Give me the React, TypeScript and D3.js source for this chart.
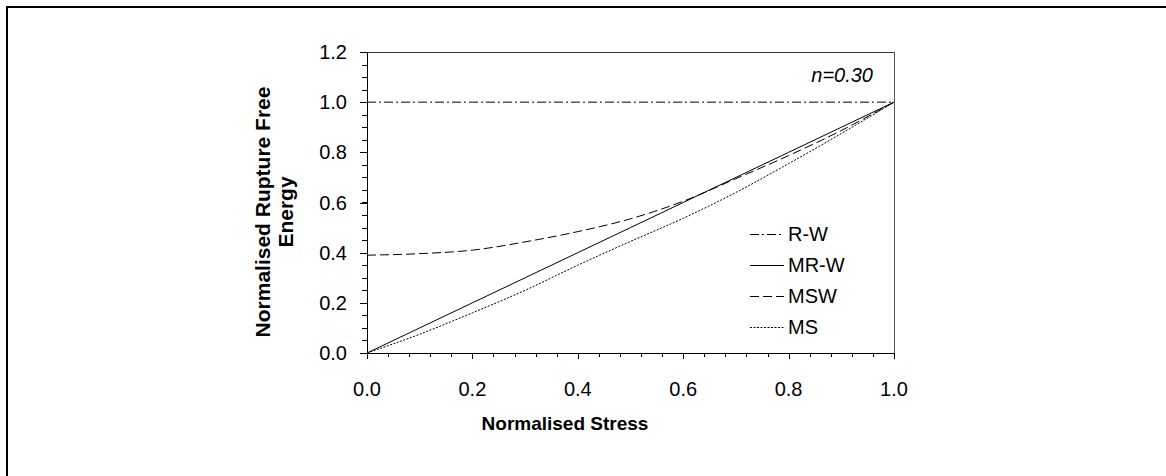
import { useMemo } from 'react';
import * as d3 from 'd3';

const stress = [0, 0.1, 0.2, 0.3, 0.4, 0.5, 0.6, 0.7, 0.8, 0.9, 1.0];
const rwEnergy = [1, 1, 1, 1, 1, 1, 1, 1, 1, 1, 1];
const mrwEnergy = [0, 0.1, 0.2, 0.3, 0.4, 0.5, 0.6, 0.7, 0.8, 0.9, 1.0];
const mswEnergy = [0.39, 0.396, 0.41, 0.443, 0.484, 0.535, 0.605, 0.695, 0.787, 0.887, 1.0];
const msEnergy = [0, 0.075, 0.16, 0.25, 0.35, 0.445, 0.537, 0.64, 0.755, 0.875, 1.0];

const seriesNames = ['R-W', 'MR-W', 'MSW', 'MS'];
const xTicks = [0, 0.2, 0.4, 0.6, 0.8, 1.0];
const yTicks = [0, 0.2, 0.4, 0.6, 0.8, 1.0, 1.2];

const FONT = '"Liberation Sans", Arial, sans-serif';

export default function App() {
  const width = 1166;
  const height = 476;
  const plot = { left: 367, right: 894, top: 52, bottom: 353 };

  const x = d3.scaleLinear().domain([0, 1]).range([plot.left, plot.right]);
  const y = d3.scaleLinear().domain([0, 1.2]).range([plot.bottom, plot.top]);

  const series = useMemo(() => {
    const all = [rwEnergy, mrwEnergy, mswEnergy, msEnergy];
    const dashes = ['9,3,2,3', null, '9,4', '2,1.5'];
    return all.map((vals, i) => ({
      name: seriesNames[i],
      dash: dashes[i],
      points: stress.map((s, j) => [s, vals[j]] as [number, number]),
    }));
  }, []);

  const line = d3
    .line<[number, number]>()
    .x((d) => x(d[0]))
    .y((d) => y(d[1]))
    .curve(d3.curveMonotoneX);

  const xMinor = d3.range(0, 1.0001, 0.04);
  const yMinor = d3.range(0, 1.2001, 0.05);

  const legendX = 750;
  const legendY0 = 234;
  const legendStep = 31;

  return (
    <svg
      width={width}
      height={height}
      style={{ position: 'absolute', left: 0, top: 0, background: '#fff' }}
      fontFamily={FONT}
    >
      {/* outer frame (only top & left visible) */}
      <rect x={7} y={7} width={width + 20} height={height + 20} fill="none" stroke="#000" strokeWidth={2} />

      {/* plot box */}
      <line x1={plot.left} x2={plot.right} y1={plot.top + 0.5} y2={plot.top + 0.5} stroke="#333" />
      <line x1={plot.right + 0.5} x2={plot.right + 0.5} y1={plot.top} y2={plot.bottom} stroke="#555" />

      {/* series */}
      {series.map((s) => (
        <path
          key={s.name}
          d={line(s.points) ?? ''}
          fill="none"
          stroke="#000"
          strokeWidth={1}
          strokeDasharray={s.dash ?? undefined}
        />
      ))}

      {/* y axis */}
      <line x1={plot.left + 0.5} x2={plot.left + 0.5} y1={plot.top} y2={plot.bottom} stroke="#000" />
      {yMinor.map((t) => (
        <line key={`ym${t}`} x1={plot.left - 5} x2={plot.left} y1={Math.round(y(t)) + 0.5} y2={Math.round(y(t)) + 0.5} stroke="#000" />
      ))}
      {yTicks.map((t) => (
        <g key={`y${t}`}>
          <line x1={plot.left - 7} x2={plot.left} y1={Math.round(y(t)) + 0.5} y2={Math.round(y(t)) + 0.5} stroke="#000" />
          <text x={plot.left - 20} y={y(t)} textAnchor="end" dominantBaseline="central" fontSize={20}>
            {d3.format('.1f')(t)}
          </text>
        </g>
      ))}

      {/* x axis */}
      <line x1={plot.left} x2={plot.right + 1} y1={plot.bottom + 0.5} y2={plot.bottom + 0.5} stroke="#000" />
      {xMinor.map((t) => (
        <line key={`xm${t}`} x1={Math.round(x(t)) + 0.5} x2={Math.round(x(t)) + 0.5} y1={plot.bottom} y2={plot.bottom + 4} stroke="#000" />
      ))}
      {xTicks.map((t) => (
        <g key={`x${t}`}>
          <line x1={Math.round(x(t)) + 0.5} x2={Math.round(x(t)) + 0.5} y1={plot.bottom} y2={plot.bottom + 6} stroke="#000" />
          <text x={x(t)} y={396} textAnchor="middle" fontSize={20}>
            {d3.format('.1f')(t)}
          </text>
        </g>
      ))}

      {/* axis titles */}
      <text x={565} y={430} textAnchor="middle" fontSize={19} fontWeight="bold">
        Normalised Stress
      </text>
      <text transform="translate(270,212) rotate(-90)" textAnchor="middle" fontSize={21} fontWeight="bold">
        <tspan x={0} dy={0}>Normalised Rupture Free</tspan>
        <tspan x={0} dy={23}>Energy</tspan>
      </text>

      {/* annotation */}
      <text x={873} y={82} textAnchor="end" fontSize={20} fontStyle="italic">
        n=0.30
      </text>

      {/* legend */}
      {series.map((s, i) => {
        const ly = legendY0 + i * legendStep;
        return (
          <g key={`lg${s.name}`}>
            <line
              x1={legendX}
              x2={legendX + 34}
              y1={ly + 0.5}
              y2={ly + 0.5}
              stroke="#000"
              strokeDasharray={s.dash ?? undefined}
            />
            <text x={legendX + 38} y={ly} dominantBaseline="central" fontSize={20}>
              {s.name}
            </text>
          </g>
        );
      })}
    </svg>
  );
}
